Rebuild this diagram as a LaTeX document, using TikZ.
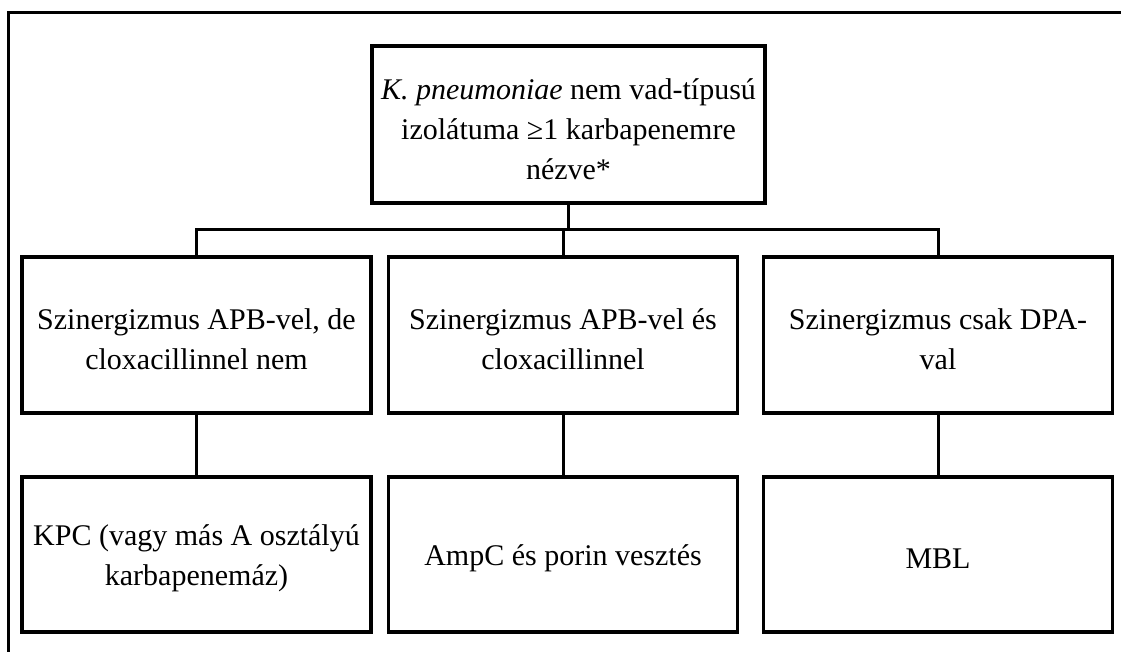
\documentclass[tikz,border=0pt]{standalone}
\usepackage{fontspec}
\setmainfont{Liberation Serif}
\begin{document}
\begin{tikzpicture}[x=1pt,y=-1pt,
  box/.style={draw=black,line width=3.5pt,inner sep=0pt,
    minimum width=349pt,minimum height=156pt},
  txt/.style={inner sep=0pt,align=center,font=\fontsize{30}{40}\selectfont},
  conn/.style={draw=black,line width=3pt}]
\useasboundingbox (0,0) rectangle (1121,652);
% partial outer frame
\draw[line width=3pt] (7,13) -- (1121,13);
\draw[line width=2.2pt] (8.5,11.5) -- (8.5,652);
% boxes
\node[box,minimum width=393pt,minimum height=157pt] (top) at (568.5,124.5) {};
\node[box] (l) at (196.5,335) {};
\node[box] (m) at (563,335) {};
\node[box] (r) at (938,335) {};
\node[box,minimum height=155pt] (l2) at (196.5,554.5) {};
\node[box,minimum height=155pt] (m2) at (563,554.5) {};
\node[box,minimum height=155pt] (r2) at (938,554.5) {};
% texts
\node[txt] (topt) at ([yshift=-5pt]top.center)
  {\textit{K. pneumoniae} nem vad-típusú\\izolátuma ≥1 karbapenemre\\nézve*};
\node[txt] (lt) at ([yshift=-4pt]l.center) {Szinergizmus APB-vel, de\\cloxacillinnel nem};
\node[txt] (mt) at ([yshift=-4pt]m.center) {Szinergizmus APB-vel és\\cloxacillinnel};
\node[txt] (rt) at ([yshift=-4pt]r.center) {Szinergizmus csak DPA-\\val};
\node[txt] (l2t) at ([yshift=-4pt]l2.center) {KPC (vagy más A osztályú\\karbapenemáz)};
\node[txt] (m2t) at ([yshift=-4pt]m2.center) {AmpC és porin vesztés};
\node[txt] (r2t) at ([yshift=-4pt]r2.center) {MBL};
% connectors
\coordinate (busl) at (196.5,230);
\coordinate (busr) at (938,230);
\draw[conn] (l.north) -- (busl) -- (busr) -- (r.north);
\draw[conn] (m.north) -- (m.north |- busl);
\draw[conn] (top.south) -- (top.south |- busl);
\draw[conn] (l.south) -- (l2.north);
\draw[conn] (m.south) -- (m2.north);
\draw[conn] (r.south) -- (r2.north);
\end{tikzpicture}
\end{document}
